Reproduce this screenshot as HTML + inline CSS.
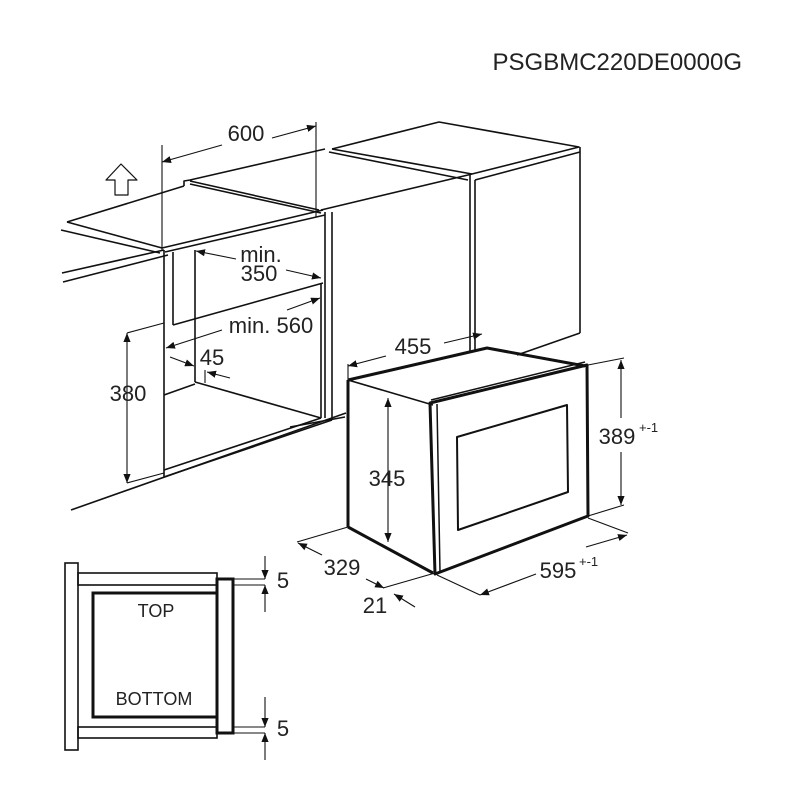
<!DOCTYPE html>
<html><head><meta charset="utf-8"><style>
html,body{margin:0;padding:0;background:#fff}
svg{display:block}
text{font-family:"Liberation Sans",Arial,sans-serif;fill:#222}
</style></head><body>
<svg width="800" height="800" viewBox="0 0 800 800" xmlns="http://www.w3.org/2000/svg">
<defs>
<marker id="a" viewBox="0 0 10 10" refX="10" refY="5" markerWidth="9" markerHeight="9" orient="auto-start-reverse" markerUnits="userSpaceOnUse"><path d="M0,1 L10,5 L0,9 z" fill="#111"/></marker>
</defs>
<text x="742" y="70" font-size="24" text-anchor="end">PSGBMC220DE0000G</text>

<g stroke="#111" stroke-width="1.6" fill="none" stroke-linejoin="round">
<polygon points="121,164 106,180 115,180 115,195 128,195 128,180 137,180" stroke-width="1.2"/>
<line x1="67" y1="222" x2="184" y2="186"/>
<line x1="67" y1="222" x2="162" y2="248"/>
<line x1="61" y1="230" x2="160" y2="253"/>
<line x1="62" y1="273" x2="164" y2="250"/>
<line x1="63" y1="282" x2="168" y2="255"/>
<polyline points="184,186 184,181 190,180 325,149"/>
<line x1="190" y1="181" x2="319" y2="210"/>
<line x1="190" y1="184" x2="321" y2="213"/>
<line x1="162" y1="248" x2="323" y2="210"/>
<line x1="165" y1="252" x2="325" y2="215"/>
<line x1="173" y1="252" x2="173" y2="325"/>
<line x1="173" y1="325" x2="323" y2="283"/>
<line x1="325" y1="212" x2="325" y2="283"/>
<polyline points="332,149 439,122 579,147 468,175 321,210"/>
<line x1="329" y1="152" x2="468" y2="180"/>
<line x1="332" y1="149" x2="472" y2="174"/>
<line x1="475" y1="180" x2="580" y2="152"/>
<line x1="332" y1="212" x2="332" y2="418"/>
<line x1="325" y1="283" x2="325" y2="418"/>
<line x1="470" y1="175" x2="470" y2="352"/>
<line x1="475" y1="180" x2="475" y2="350"/>
<line x1="580" y1="147" x2="580" y2="333"/>
<line x1="517" y1="355" x2="580" y2="333"/>
<line x1="164" y1="250" x2="164" y2="477"/>
<line x1="195" y1="250" x2="195" y2="382"/>
<line x1="195" y1="382" x2="321" y2="418"/>
<line x1="164" y1="395" x2="195" y2="384"/>
<line x1="321" y1="283" x2="321" y2="418"/>
<line x1="164" y1="470" x2="321" y2="418"/>
<line x1="164" y1="477" x2="332" y2="420"/>
<line x1="71" y1="510" x2="346" y2="413"/>
<line x1="290" y1="427" x2="345" y2="417"/>
</g>

<g stroke="#111" stroke-width="1.1" fill="none">
<line x1="162" y1="145" x2="162" y2="250"/>
<line x1="316" y1="122" x2="316" y2="217"/>
<line x1="222" y1="145" x2="162" y2="162" marker-end="url(#a)"/>
<line x1="272" y1="138" x2="316" y2="126" marker-end="url(#a)"/>
<line x1="127" y1="333" x2="164" y2="323"/>
<line x1="127" y1="483" x2="164" y2="473"/>
<line x1="127" y1="333" x2="127" y2="483" marker-start="url(#a)" marker-end="url(#a)"/>
<line x1="236" y1="259" x2="196" y2="251" marker-end="url(#a)"/>
<line x1="286" y1="270" x2="321" y2="278" marker-end="url(#a)"/>
<line x1="287" y1="310" x2="320" y2="298" marker-end="url(#a)"/>
<line x1="222" y1="330" x2="166" y2="348" marker-end="url(#a)"/>
<line x1="170" y1="357" x2="194" y2="366" marker-end="url(#a)"/>
<line x1="230" y1="378" x2="207" y2="372" marker-end="url(#a)"/>
<line x1="205" y1="370" x2="205" y2="383"/>
<line x1="348" y1="364" x2="348" y2="380"/>
<line x1="386" y1="356" x2="348" y2="366" marker-end="url(#a)"/>
<line x1="444" y1="343" x2="482" y2="334" marker-end="url(#a)"/>
<line x1="388" y1="398" x2="388" y2="542" marker-start="url(#a)" marker-end="url(#a)"/>
<line x1="588" y1="365" x2="624" y2="358"/>
<line x1="588" y1="516" x2="624" y2="505"/>
<line x1="621" y1="360" x2="621" y2="418" marker-start="url(#a)"/>
<line x1="621" y1="452" x2="621" y2="505" marker-end="url(#a)"/>
<line x1="297" y1="542" x2="348" y2="527"/>
<line x1="322" y1="555" x2="298" y2="543" marker-end="url(#a)"/>
<line x1="366" y1="579" x2="384" y2="588" marker-end="url(#a)"/>
<line x1="383" y1="588" x2="435" y2="573"/>
<line x1="415" y1="607" x2="394" y2="594" marker-end="url(#a)"/>
<line x1="437" y1="575" x2="480" y2="595"/>
<line x1="588" y1="518" x2="628" y2="533"/>
<line x1="536" y1="574" x2="480" y2="595" marker-end="url(#a)"/>
<line x1="586" y1="547" x2="627" y2="535" marker-end="url(#a)"/>
</g>

<g stroke="#111" fill="none" stroke-linejoin="round">
<polyline points="348,380 487,348 585,366" stroke-width="3"/>
<line x1="348" y1="380" x2="433" y2="405" stroke-width="1.6"/>
<line x1="348" y1="380" x2="348" y2="527" stroke-width="3"/>
<line x1="348" y1="527" x2="433" y2="573" stroke-width="3"/>
<polygon points="430,403 587,365 588,516 435,574" stroke-width="3"/>
<line x1="437" y1="404" x2="440" y2="572" stroke-width="1.5"/>
<line x1="431" y1="400" x2="585" y2="362" stroke-width="1.5"/>
<polygon points="457,437 567,405 568,492 458,530" stroke-width="2"/>
</g>

<g stroke="#111" fill="none">
<rect x="65" y="563" width="13" height="187" stroke-width="1.6"/>
<rect x="78" y="573" width="139" height="12" stroke-width="1.6"/>
<rect x="78" y="727" width="139" height="11" stroke-width="1.6"/>
<rect x="93" y="593" width="124" height="124" stroke-width="3"/>
<rect x="217" y="579" width="16" height="154" stroke-width="3"/>
<g stroke-width="1.1">
<line x1="233" y1="579" x2="265" y2="579"/>
<line x1="233" y1="585" x2="265" y2="585"/>
<line x1="265" y1="556" x2="265" y2="579" marker-end="url(#a)"/>
<line x1="265" y1="612" x2="265" y2="585" marker-end="url(#a)"/>
<line x1="233" y1="727" x2="265" y2="727"/>
<line x1="233" y1="733" x2="265" y2="733"/>
<line x1="265" y1="697" x2="265" y2="727" marker-end="url(#a)"/>
<line x1="265" y1="760" x2="265" y2="733" marker-end="url(#a)"/>
</g>
</g>

<g font-size="22">
<text x="246" y="141" text-anchor="middle">600</text>
<text x="261" y="262" text-anchor="middle">min.</text>
<text x="259" y="281" text-anchor="middle">350</text>
<text x="271" y="333" text-anchor="middle">min. 560</text>
<text x="212" y="365" text-anchor="middle">45</text>
<text x="128" y="401" text-anchor="middle">380</text>
<text x="413" y="354" text-anchor="middle">455</text>
<text x="387" y="486" text-anchor="middle">345</text>
<text x="617" y="444" text-anchor="middle">389</text>
<text x="639" y="432" font-size="13">+-1</text>
<text x="342" y="575" text-anchor="middle">329</text>
<text x="375" y="613" text-anchor="middle">21</text>
<text x="558" y="578" text-anchor="middle">595</text>
<text x="579" y="566" font-size="13">+-1</text>
<text x="283" y="588" text-anchor="middle">5</text>
<text x="283" y="736" text-anchor="middle">5</text>
</g>
<text x="156" y="617" font-size="18" text-anchor="middle">TOP</text>
<text x="154" y="705" font-size="18" text-anchor="middle">BOTTOM</text>
</svg>
</body></html>
